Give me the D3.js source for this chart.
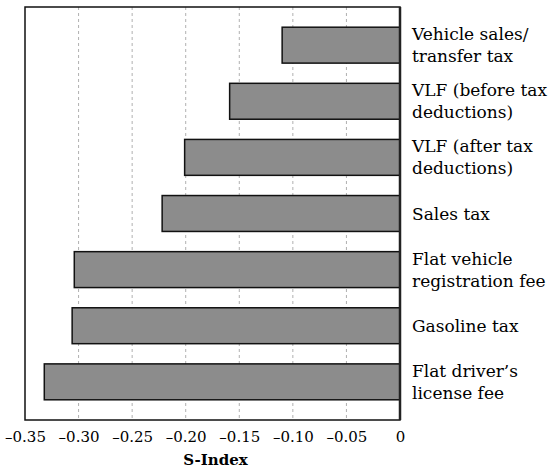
<!DOCTYPE html>
<html>
<head>
<meta charset="utf-8">
<script src="https://cdn.jsdelivr.net/npm/d3@7"></script>
<style>
  body { margin: 0; background: #fff; }
  text { font-family: "DejaVu Serif", serif; fill: #000; }
</style>
</head>
<body>
<svg id="chart" width="560" height="473"></svg>
<script>
// Categories (top to bottom), each label split in lines
var categories = [
    "Vehicle sales/\ntransfer tax",
    "VLF (before tax\ndeductions)",
    "VLF (after tax\ndeductions)",
    "Sales tax",
    "Flat vehicle\nregistration fee",
    "Gasoline tax",
    "Flat driver\u2019s\nlicense fee"
];
var sIndex = [-0.11, -0.159, -0.201, -0.222, -0.304, -0.306, -0.332];
var tickValues = [-0.35, -0.30, -0.25, -0.20, -0.15, -0.10, -0.05, 0];

var margin = {top: 7, left: 25, right: 160, bottom: 53};
var svg = d3.select("#chart");
var width = +svg.attr("width"), height = +svg.attr("height");
var x0 = margin.left, x1 = width - margin.right;
var y0 = margin.top, y1 = height - margin.bottom;

var x = d3.scaleLinear().domain([-0.35, 0]).range([x0, x1]);
var y = d3.scaleBand().domain(categories).range([y0, y1]).padding(0.36);

// dashed gridlines
svg.append("g")
    .selectAll("line")
    .data(tickValues.slice(1, -1))
    .enter().append("line")
    .attr("x1", function(d) { return x(d); })
    .attr("x2", function(d) { return x(d); })
    .attr("y1", y0).attr("y2", y1)
    .style("stroke", "#b0b0b0")
    .style("stroke-width", 1)
    .style("stroke-dasharray", "3,3");

// bars
svg.append("g")
    .selectAll("rect")
    .data(sIndex)
    .enter().append("rect")
    .attr("x", function(d) { return x(d); })
    .attr("y", function(d, i) { return y(categories[i]); })
    .attr("width", function(d) { return x(0) - x(d); })
    .attr("height", y.bandwidth())
    .style("fill", "#8c8c8c")
    .style("stroke", "#111")
    .style("stroke-width", 1.5);

// frame
svg.append("rect")
    .attr("x", x0).attr("y", y0)
    .attr("width", x1 - x0).attr("height", y1 - y0)
    .style("fill", "none")
    .style("stroke", "#111")
    .style("stroke-width", 1.5);
svg.append("line")
    .attr("x1", x(0)).attr("x2", x(0))
    .attr("y1", y0).attr("y2", y1)
    .style("stroke", "#222")
    .style("stroke-width", 2.5);

// x axis
var fmt = function(d) {
    if (d === 0) return "0";
    return "\u2013" + d3.format(".2f")(Math.abs(d));
};
var xAxis = svg.append("g")
    .attr("transform", "translate(0," + y1 + ")")
    .call(d3.axisBottom(x).tickValues(tickValues).tickFormat(fmt).tickSize(0).tickPadding(11));
xAxis.select(".domain").remove();
xAxis.selectAll("text")
    .style("font-family", "DejaVu Serif, serif")
    .style("font-size", "15px")
    .attr("fill", "#000");

svg.append("text")
    .attr("x", (x0 + x1) / 2 + 3)
    .attr("y", 465)
    .attr("text-anchor", "middle")
    .style("font-size", "15px")
    .style("font-weight", "bold")
    .text("S-Index");

// category labels
var labels = svg.append("g")
    .selectAll("text")
    .data(categories)
    .enter().append("text")
    .attr("x", x1 + 12)
    .attr("y", function(d) { return y(d) + y.bandwidth() / 2; })
    .style("font-size", "17px");

labels.each(function(d) {
    var lines = d.split("\n");
    var t = d3.select(this);
    lines.forEach(function(line, i) {
        var dy = lines.length === 1 ? 6 : (i === 0 ? -5 : 22);
        t.append("tspan")
            .attr("x", x1 + 12)
            .attr("dy", dy)
            .text(line);
    });
});
</script>
</body>
</html>
